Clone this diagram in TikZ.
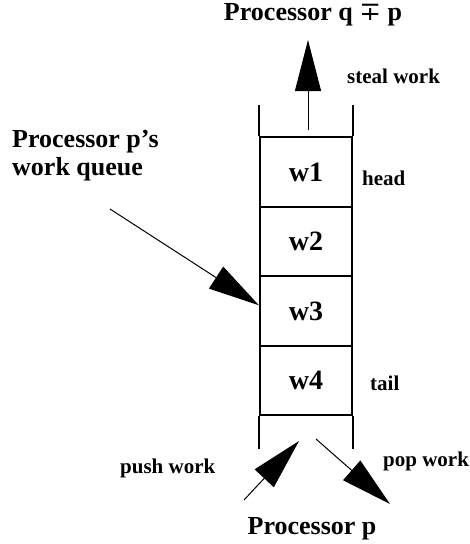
\documentclass[tikz,border=0pt]{standalone}
\usepackage{fontspec}
\setmainfont{Liberation Serif}
\newfontfamily\symfont{DejaVu Serif}
\usetikzlibrary{arrows.meta,calc}

\tikzset{
  big/.style={font=\fontsize{26}{28}\selectfont\bfseries, inner sep=0pt},
  small/.style={font=\fontsize{21}{24}\selectfont\bfseries, inner sep=0pt},
  cell/.style={draw, line width=2.2pt, minimum width=92pt, minimum height=69.5pt,
    inner sep=0pt, font=\fontsize{28}{28}\selectfont\bfseries},
  wall/.style={line width=2.2pt},
  ptr/.style={line width=1pt, -{Triangle[length=51pt,width=26pt]}}
}

\begin{document}
\begin{tikzpicture}[x=1pt,y=-1pt]
\useasboundingbox (0,0) rectangle (470,544);

% the work queue: four cells between two open-ended walls
\node[cell] (w1) at (306,172)   {w1};
\node[cell] (w2) at (306,241.5) {w2};
\node[cell] (w3) at (306,311)   {w3};
\node[cell] (w4) at (306,380.5) {w4};
\draw[wall] (w1.north west) -- +(0,-31);
\draw[wall] (w1.north east) -- +(0,-31);
\draw[wall] (w4.south west) -- +(0,33);
\draw[wall] (w4.south east) -- +(0,33);

% labels
\node[big, anchor=base] (qp) at (313,20)
  {Processor q {\symfont\mdseries ∓} p};
\node[small, anchor=base west] (steal) at (347,83) {steal work};
\node[big, anchor=base west, align=left] (queue) at (12,175)
  {Processor p’s\\work queue};
\node[small, anchor=base west] (head) at (362,185) {head};
\node[small, anchor=base west] (tail) at (370,390) {tail};
\node[small, anchor=base west] (push) at (120,473) {push work};
\node[small, anchor=base west] (pop) at (383,466) {pop work};
\node[big, anchor=base] (pp) at (312,534) {Processor p};

% arrow end points
\coordinate (stealfrom) at (308,130);
\coordinate (stealto)   at (308,40);
\coordinate (qfrom)     at (110,209);
\coordinate (qto)       at ($(w3.north west)!0.42!(w3.south west)$);
\coordinate (pushfrom)  at (244,500);
\coordinate (pushto)    at (299,441);
\coordinate (popfrom)   at (316,439);
\coordinate (popto)     at (390,504);

\draw[ptr] (stealfrom) -- (stealto);
\draw[ptr] (qfrom) -- (qto);
\draw[ptr] (pushfrom) -- (pushto);
\draw[ptr] (popfrom) -- (popto);
\end{tikzpicture}
\end{document}
